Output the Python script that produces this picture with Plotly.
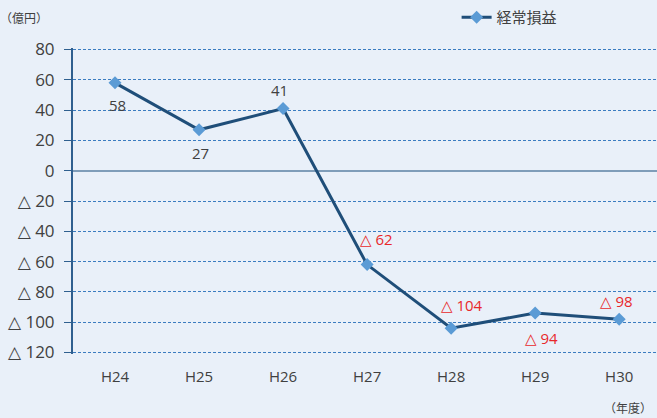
import plotly.graph_objects as go

categories = ["H24", "H25", "H26", "H27", "H28", "H29", "H30"]
values = [58, 27, 41, -62, -104, -94, -98]
series_name = "経常損益"
y_tickvals = [80, 60, 40, 20, 0, -20, -40, -60, -80, -100, -120]
y_ticktext = ["80", "60", "40", "20", "0", "△ 20", "△ 40", "△ 60", "△ 80", "△ 100", "△ 120"]
label_texts = ["58", "27", "41", "△ 62", "△ 104", "△ 94", "△ 98"]

# label offsets (pixels) - style only
label_dx = [2, 1, -4, 9, 11, 6, -3]
label_dy = [-22, -23, 19, 26, 23, -25, 18]

FONT = "Open Sans, DejaVu Sans, Noto Sans CJK JP, sans-serif"
BG = "#E9F0F9"

fig = go.Figure()
fig.add_trace(go.Scatter(
    x=categories, y=values, mode="lines+markers", name=series_name,
    line=dict(color="#1F4E79", width=3),
    marker=dict(symbol="diamond", size=10, color="#5B9BD5"),
))

for i, (c, v, t) in enumerate(zip(categories, values, label_texts)):
    fig.add_annotation(
        x=c, y=v, xref="x", yref="y", text=t, showarrow=False,
        xshift=label_dx[i], yshift=label_dy[i],
        font=dict(size=15, color="#404040" if v >= 0 else "#E8282B", family=FONT),
    )

fig.add_annotation(x=-0.128, y=1.095, xref="paper", yref="paper", xanchor="left", yanchor="middle",
                   text="（億円）", showarrow=False, font=dict(size=12, color="#404040", family=FONT))
fig.add_annotation(x=0.995, y=-0.178, xref="paper", yref="paper", xanchor="right", yanchor="middle",
                   text="（年度）", showarrow=False, font=dict(size=12, color="#404040", family=FONT))

fig.update_layout(
    width=657, height=418,
    margin=dict(l=73, r=0, t=48, b=64, autoexpand=False),
    paper_bgcolor=BG, plot_bgcolor=BG,
    font=dict(family=FONT, color="#404040"),
    showlegend=True,
    legend=dict(orientation="h", xref="container", yref="container",
                x=0.695, y=0.958, xanchor="left", yanchor="middle",
                bgcolor="rgba(0,0,0,0)", font=dict(size=15, color="#404040", family=FONT),
                itemwidth=30),
    xaxis=dict(
        range=[-0.5, 6.45], showgrid=False, zeroline=False, showline=False,
        ticks="", tickfont=dict(size=15, color="#404040"), ticklabelstandoff=12,
    ),
    yaxis=dict(
        range=[-121, 81], tickvals=y_tickvals, ticktext=y_ticktext,
        tickfont=dict(size=17, color="#404040"),
        showgrid=True, gridcolor="#3A7CC0", gridwidth=1, griddash="3px,2px",
        zeroline=True, zerolinecolor="#7F9DB9", zerolinewidth=2,
        showline=True, linecolor="#2F5F8F", linewidth=2,
        ticks="outside", ticklen=7, tickcolor="#2F5F8F", tickwidth=1,
        ticklabelstandoff=6,
    ),
)

fig.write_html("out.html", config={"displayModeBar": False},
               post_script="document.body.style.margin='0';document.body.style.background='#E9F0F9';")
